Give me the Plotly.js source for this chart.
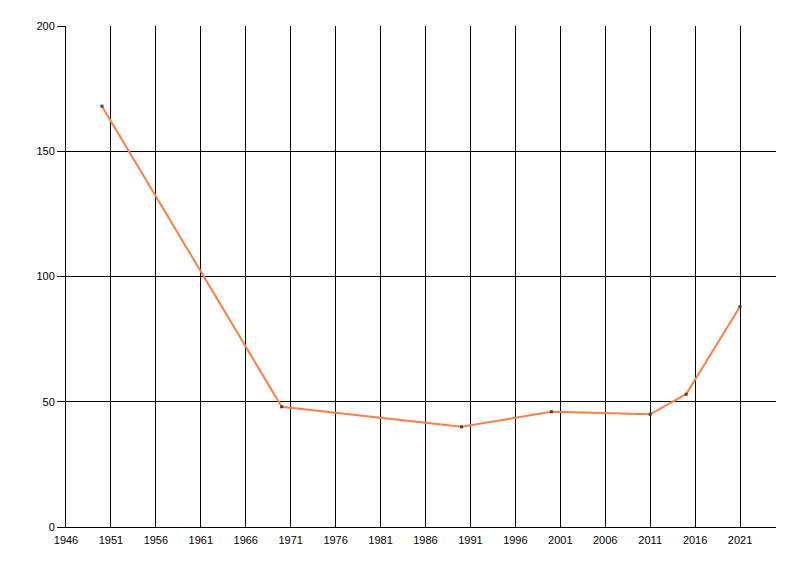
<!DOCTYPE html>
<html>
<head>
<meta charset="utf-8">
<script src="https://cdn.plot.ly/plotly-3.0.1.min.js"></script>
<style>html,body{margin:0;padding:0;background:#fff;}#chart{width:800px;height:576px;}</style>
</head>
<body>
<div id="chart"></div>
<script>
const years = [1950, 1970, 1990, 2000, 2011, 2015, 2021];
const values = [168, 48, 40, 46, 45, 53, 88];
const xTickVals = [1946, 1951, 1956, 1961, 1966, 1971, 1976, 1981, 1986, 1991, 1996, 2001, 2006, 2011, 2016, 2021];
const yTickVals = [0, 50, 100, 150, 200];

const trace = {
  x: years,
  y: values,
  type: 'scatter',
  mode: 'lines+markers',
  line: {color: '#FF7F40', width: 2},
  marker: {color: '#404040', size: 3, symbol: 'square'},
  cliponaxis: false
};

const layout = {
  width: 800,
  height: 576,
  margin: {l: 66, r: 24, t: 26, b: 49},
  paper_bgcolor: '#ffffff',
  plot_bgcolor: '#ffffff',
  showlegend: false,
  font: {family: 'Liberation Sans, Arial, sans-serif', size: 11, color: '#000'},
  xaxis: {
    range: [1946, 2025],
    tickmode: 'array',
    tickvals: xTickVals,
    ticktext: xTickVals.map(String),
    showgrid: true,
    gridcolor: '#000',
    gridwidth: 1,
    showline: true,
    linecolor: '#000',
    linewidth: 1,
    ticks: 'outside',
    ticklen: 3,
    tickcolor: '#fff',
    zeroline: false,
    fixedrange: true
  },
  yaxis: {
    range: [0, 200],
    tickmode: 'array',
    tickvals: yTickVals,
    ticktext: yTickVals.map(String),
    showgrid: true,
    gridcolor: '#000',
    gridwidth: 1,
    showline: true,
    linecolor: '#000',
    linewidth: 1,
    ticks: 'outside',
    ticklen: 8,
    tickcolor: '#000',
    zeroline: false,
    fixedrange: true
  }
};

Plotly.newPlot('chart', [trace], layout, {displayModeBar: false, staticPlot: true});
</script>
</body>
</html>
